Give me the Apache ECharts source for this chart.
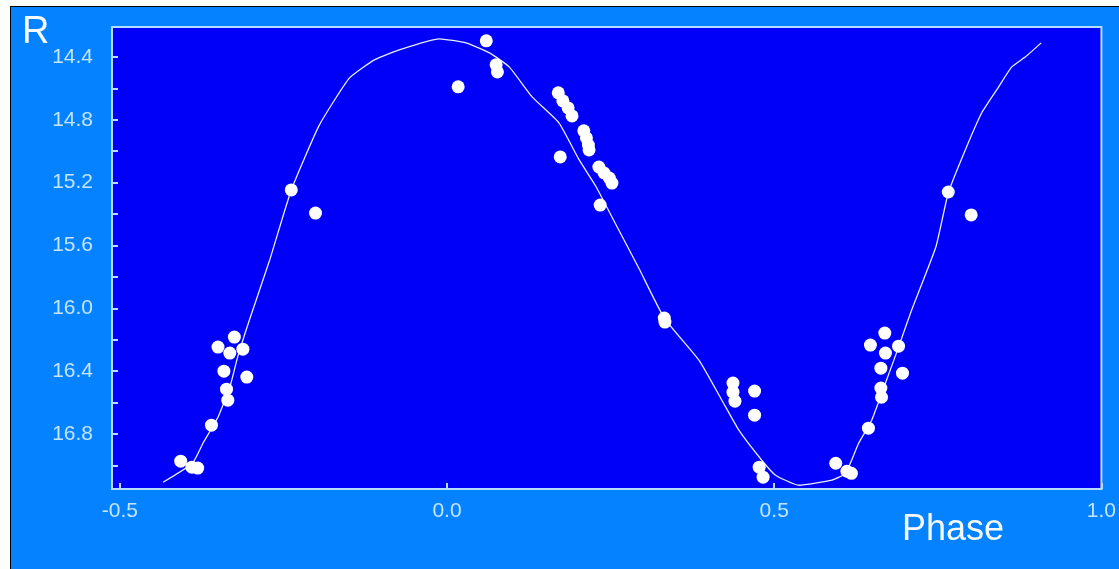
<!DOCTYPE html>
<html>
<head>
<meta charset="utf-8">
<script src="https://cdn.jsdelivr.net/npm/echarts@6/dist/echarts.min.js"></script>
<style>
html,body{margin:0;padding:0;background:#ffffff;width:1119px;height:569px;overflow:hidden;}
#frame{position:absolute;left:10px;top:6px;right:0;bottom:0;background:#0582ff;border-left:1px solid #000;border-top:1px solid #000;}
#chart{position:absolute;left:0;top:0;width:1119px;height:569px;}
</style>
</head>
<body>
<div id="frame"></div>
<div id="chart"></div>
<script>
// Observed data points: [phase, R magnitude]
const obsPhase = [-0.407,-0.390,-0.381,-0.360,-0.335,-0.337,-0.306,-0.341,-0.332,-0.312,-0.350,-0.325,
  -0.238,-0.201,0.017,0.060,0.075,0.077,0.170,0.177,0.185,0.191,0.173,0.209,0.213,0.216,0.217,
  0.232,0.240,0.248,0.252,0.234,0.332,0.333,0.437,0.437,0.440,0.470,0.470,0.477,0.483,
  0.594,0.611,0.618,0.644,0.664,0.663,0.663,0.696,0.670,0.647,0.690,0.669,0.766,0.801];
const obsMag = [16.973,17.011,17.017,16.744,16.585,16.515,16.438,16.400,16.285,16.260,16.247,16.183,
  15.247,15.394,14.591,14.298,14.451,14.496,14.629,14.680,14.725,14.776,15.037,14.871,14.916,14.961,14.992,
  15.101,15.139,15.171,15.203,15.343,16.062,16.088,16.476,16.534,16.591,16.527,16.680,17.011,17.075,
  16.986,17.037,17.050,16.763,16.566,16.508,16.381,16.413,16.285,16.234,16.241,16.158,15.260,15.406];
// Fitted light curve
const fitPhase = [-0.434,-0.389,-0.373,-0.350,-0.332,-0.320,-0.302,-0.271,-0.238,-0.195,-0.149,-0.111,-0.073,
  -0.012,0.029,0.065,0.095,0.130,0.171,0.202,0.228,0.252,0.293,0.332,0.385,0.420,0.446,0.481,0.502,0.538,
  0.588,0.609,0.629,0.649,0.670,0.690,0.710,0.747,0.766,0.792,0.817,0.843,0.863,0.884,0.908];
const fitMag = [17.107,16.986,16.859,16.693,16.503,16.311,16.075,15.693,15.247,14.833,14.534,14.419,14.355,
  14.285,14.311,14.375,14.464,14.655,14.820,15.056,15.228,15.419,15.744,16.062,16.330,16.585,16.776,16.967,17.062,17.126,
  17.094,17.050,16.859,16.712,16.476,16.247,16.011,15.610,15.266,14.992,14.757,14.591,14.464,14.400,14.311];
const xTickLabels = [-0.5, 0.0, 0.5, 1.0];
const yTickLabels = [14.4, 14.8, 15.2, 15.6, 16.0, 16.4, 16.8];
const yTicks = [14.4,14.6,14.8,15.0,15.2,15.4,15.6,15.8,16.0,16.2,16.4,16.6,16.8,17.0];
const xName = 'Phase';
const yName = 'R';

const chart = echarts.init(document.getElementById('chart'), null, {renderer:'canvas'});
const labelColor = '#c4e4ff';
const lineColor = '#b4dcff';
chart.setOption({
  backgroundColor: 'transparent',
  animation: false,
  grid: {left:112, top:27, width:992, height:462, show:true, backgroundColor:'#0000f8', borderColor:lineColor, borderWidth:2},
  xAxis: {
    type:'value', min:-0.512, max:1.0, position:'bottom',
    axisLine:{show:false, onZero:false},
    splitLine:{show:false},
    axisTick:{show:true, inside:true, length:6, customValues:xTickLabels, lineStyle:{color:lineColor, width:2}},
    axisLabel:{customValues:xTickLabels, formatter:v=>Number(v).toFixed(1), color:labelColor, fontSize:21, fontFamily:'Liberation Sans, Arial, sans-serif', margin:12}
  },
  yAxis: {
    type:'value', inverse:true, min:14.21, max:17.15, position:'left',
    axisLine:{show:false, onZero:false},
    splitLine:{show:false},
    axisTick:{show:true, inside:true, length:6, customValues:yTicks, lineStyle:{color:lineColor, width:2}},
    axisLabel:{customValues:yTickLabels, formatter:v=>Number(v).toFixed(1), color:labelColor, fontSize:21, fontFamily:'Liberation Sans, Arial, sans-serif', margin:19}
  },
  graphic: [
    {type:'text', left:22, top:14, style:{text:yName, fill:'#f4faff', font:'38px "Liberation Sans", Arial, sans-serif'}},
    {type:'text', left:902, top:512, style:{text:xName, fill:'#f4faff', font:'36px "Liberation Sans", Arial, sans-serif'}}
  ],
  series: [
    {type:'line', data: fitPhase.map((p,i)=>[p, fitMag[i]]), showSymbol:false, smooth:0.15,
     lineStyle:{color:'#e8eeff', width:1.3}, z:2},
    {type:'scatter', data: obsPhase.map((p,i)=>[p, obsMag[i]]), symbol:'circle', symbolSize:13,
     itemStyle:{color:'#ffffff', opacity:1}, z:3}
  ]
});
</script>
</body>
</html>
